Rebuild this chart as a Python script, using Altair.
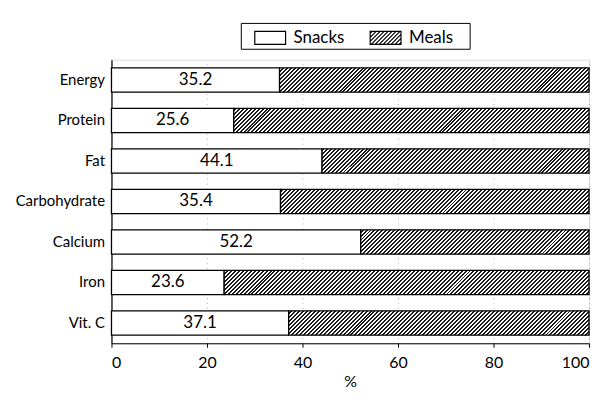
import math
import altair as alt
import pandas as pd

# ---- data ----
categories = ["Energy", "Protein", "Fat", "Carbohydrate", "Calcium", "Iron", "Vit. C"]
snacks = [35.2, 25.6, 44.1, 35.4, 52.2, 23.6, 37.1]
series = ["Snacks", "Meals"]
x_ticks = [0, 20, 40, 60, 80, 100]

# ---- style ----
FONT = "Lato"
INK = "#1a1a1a"
W_PLOT = 480
H_PLOT = 285
PAD_INNER = 0.4
N = len(categories)
STEP = H_PLOT / N
BAR_H = STEP * (1 - PAD_INNER)

# hatch rendering grid (style only): the Meals fill is drawn in short tiles
NSEG = 12
SEG = 100 / NSEG
SEG_PX = W_PLOT / NSEG          # 40 px
PERIOD = SEG_PX / 10            # 4 px
DARK = PERIOD * 0.5
OV_PX = 0.8
OV = OV_PX / W_PLOT * 100


def hatch(ws, h, x0=0.0):
    """'/' hatch as a hard-stop linear gradient for a ws x h tile whose left
    edge sits at pixel x0 of the plot (keeps stripes continuous)."""
    total = ws + h
    r = h / ws
    a = total / (ws * (1 + r * r))
    stops = []

    def clamp(v):
        return round(min(max(v, 0.0), total) / total, 5)

    k = math.floor(x0 / PERIOD)
    while k * PERIOD - x0 < total:
        s0 = k * PERIOD - x0
        s1 = s0 + DARK
        e = (k + 1) * PERIOD - x0
        stops += [
            {"offset": clamp(s0), "color": INK},
            {"offset": clamp(s1), "color": INK},
            {"offset": clamp(s1), "color": "white"},
            {"offset": clamp(e), "color": "white"},
        ]
        k += 1
    return {"gradient": "linear", "x1": 0, "y1": 0, "x2": a, "y2": a * r, "stops": stops}


# legend symbols: symbolSize 576 -> 12 px per path unit
SYM_A, SYM_B, SYM_H = -0.08, 2.5, 0.54


def hatch_symbol(a=SYM_A, b=SYM_B, hh=SYM_H, step=0.333):
    parts = [f"M{a},{-hh}H{b}V{hh}H{a}Z"]
    c = a - hh + step / 2
    while c < b + hh:
        y_lo = max(-hh, c - b)
        y_hi = min(hh, c - a)
        if y_hi > y_lo:
            parts.append(f"M{c - y_hi:.3f},{y_hi:.3f}L{c - y_lo:.3f},{y_lo:.3f}")
        c += step
    return "".join(parts)


rect_symbol = f"M{SYM_A},{-SYM_H}H{SYM_B}V{SYM_H}H{SYM_A}Z"

df = pd.DataFrame({"category": categories, "snacks": snacks})
df["zero"] = 0
df["full"] = 100
df["mid"] = df["snacks"] / 2

y_scale = alt.Scale(paddingInner=PAD_INNER, paddingOuter=PAD_INNER / 2)
y_enc = alt.Y(
    "category:N",
    sort=categories,
    title=None,
    scale=y_scale,
    axis=alt.Axis(ticks=False, labelFontSize=15, labelPadding=7, labelFont=FONT,
                  labelColor="black", domainColor="black", domainWidth=1.2),
)
x_enc = alt.X(
    "zero:Q",
    title="%",
    scale=alt.Scale(domain=[0, 100], nice=False),
    axis=alt.Axis(values=x_ticks, labelFontSize=16, labelFont=FONT, labelColor="black",
                  titleFontSize=16, titleFont=FONT, titleFontWeight="normal", titleColor="black",
                  titlePadding=3, tickSize=4, labelPadding=7, domainColor="black",
                  tickColor="black", grid=True, gridColor="#999", gridDash=[1, 4],
                  gridOpacity=0.7),
)
y_plain = alt.Y("category:N", sort=categories)

# legend carrier (invisible points)
leg_df = pd.DataFrame({"series": series, "category": categories[:2], "mid": df["mid"][:2]})
legend_layer = alt.Chart(leg_df).mark_point(
    fill="white", stroke="black", strokeWidth=1.2, opacity=0
).encode(
    x=alt.X("mid:Q"),
    y=y_plain,
    shape=alt.Shape(
        "series:N",
        sort=series,
        scale=alt.Scale(domain=series, range=[rect_symbol, hatch_symbol()]),
        legend=alt.Legend(
            title=" ", titleOrient="right", titlePadding=15, titleFontSize=8,
            orient="none", direction="horizontal", legendX=130, legendY=-37,
            strokeColor="black", fillColor="white", padding=2, symbolSize=576,
            symbolOpacity=1, symbolStrokeWidth=1.2, labelFont=FONT, labelFontSize=17,
            labelColor="black", labelOffset=25, columnPadding=13,
        ),
    ),
)

snack_layer = alt.Chart(df).mark_bar(
    fill="white", stroke="black", strokeWidth=1.3
).encode(x=x_enc, x2="snacks:Q", y=y_enc)

# full hatch tiles (identical gradient for all)
full_rows = []
part_layers = []
for c, s in zip(categories, snacks):
    for k in range(NSEG):
        lo = k * SEG
        if lo >= s:
            full_rows.append({"category": c, "lo": lo - OV, "hi": lo + SEG})
    b = math.ceil(s / SEG) * SEG
    if b - s > 1e-9:
        ws = (b - s) / 100 * W_PLOT
        part_df = pd.DataFrame([{"category": c, "lo": s, "hi": b}])
        part_layers.append(
            alt.Chart(part_df).mark_bar(fill=hatch(ws, BAR_H, s / 100 * W_PLOT), strokeWidth=0)
            .encode(x=alt.X("lo:Q"), x2="hi:Q", y=y_plain)
        )
full_df = pd.DataFrame(full_rows)
full_layer = alt.Chart(full_df).mark_bar(
    fill=hatch(SEG_PX + OV_PX, BAR_H, -OV_PX), strokeWidth=0
).encode(x=alt.X("lo:Q"), x2="hi:Q", y=y_plain)

meal_outline = alt.Chart(df).mark_bar(
    fill="white", fillOpacity=0, stroke="black", strokeWidth=1.3
).encode(x=alt.X("snacks:Q"), x2="full:Q", y=y_plain)

text_layer = alt.Chart(df).mark_text(
    font=FONT, fontSize=17, color="black", baseline="middle", align="center"
).encode(
    x=alt.X("mid:Q"),
    y=y_plain,
    text=alt.Text("snacks:Q", format=".1f"),
)

chart = alt.layer(
    legend_layer, snack_layer, full_layer, *part_layers, meal_outline, text_layer
).properties(
    width=W_PLOT, height=H_PLOT, padding={"left": 7, "top": 13, "right": 5, "bottom": 5}
).configure_view(stroke="#222", strokeWidth=1.2).configure(background="white")

chart.save("out.html", embed_options={"renderer": "svg", "actions": False})
